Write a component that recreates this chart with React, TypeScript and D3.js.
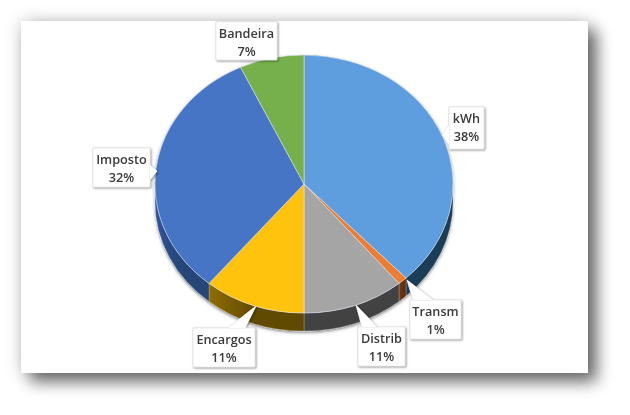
import React from "react";
import * as d3 from "d3";

const categories = ["kWh", "Transm", "Distrib", "Encargos", "Imposto", "Bandeira"];
const shares = [38, 1, 11, 11, 32, 7];
const topColors = ["#5f9ede", "#ed7d31", "#a5a5a5", "#ffc30b", "#4674c5", "#74b04c"];
const wallColors = ["#1f3c56", "#63300f", "#424242", "#614900", "#264478", "#3f6628"];
const wallLight = ["#1f3c56", "#7a3c14", "#424242", "#8f6c00", "#2f5597", "#3f6628"];

// label boxes: x, y, w, h, then pointer base x0,y0,x1,y1 and tip x,y
const boxes: number[][] = [
  [449, 107, 35, 42, 449, 125, 449, 145, 442, 135],
  [410, 300, 51, 39, 413, 300, 433, 300, 407, 280],
  [358, 327, 47, 39, 362, 327, 377, 327, 356, 305],
  [193, 328, 62, 39, 228, 328, 245, 328, 256, 306],
  [93, 148, 57, 39, 150, 165, 150, 180, 157, 171],
  [216, 22, 61, 38, 240, 60, 252, 60, 246, 60],
];

const W = 630, H = 415;
const cx = 304, cy = 184, rx = 149, ry = 129, depth = 18;
const px = (a: number) => cx + rx * Math.sin(a);
const py = (a: number) => cy - ry * Math.cos(a);

function wallPath(a0: number, a1: number): string | null {
  const s = Math.max(a0, Math.PI / 2), e = Math.min(a1, (3 * Math.PI) / 2);
  if (e <= s) return null;
  const large = e - s > Math.PI ? 1 : 0;
  return `M${px(s)},${py(s)}A${rx},${ry} 0 ${large} 1 ${px(e)},${py(e)}L${px(e)},${py(e) + depth}A${rx},${ry} 0 ${large} 0 ${px(s)},${py(s) + depth}Z`;
}

export default function App() {
  const arcs = d3.pie<number>().sort(null)(shares);
  const arcGen = d3.arc<d3.PieArcDatum<number>>().innerRadius(0).outerRadius(rx);
  const font = "'Open Sans', sans-serif";
  return (
    <svg width={W} height={H} style={{ position: "absolute", left: 0, top: 0, background: "#fff" }}>
      <defs>
        <filter id="panel" x="-15%" y="-15%" width="130%" height="130%">
          <feGaussianBlur in="SourceAlpha" stdDeviation="9" result="glow" />
          <feComponentTransfer in="glow" result="g1"><feFuncA type="linear" slope="0.2" /></feComponentTransfer>
          <feGaussianBlur in="SourceAlpha" stdDeviation="8" result="b" />
          <feOffset in="b" dx="9" dy="9" result="o" />
          <feComponentTransfer in="o" result="s"><feFuncA type="linear" slope="0.55" /></feComponentTransfer>
          <feMerge><feMergeNode in="g1" /><feMergeNode in="s" /><feMergeNode in="SourceGraphic" /></feMerge>
        </filter>
        <filter id="pie" x="-10%" y="-10%" width="120%" height="120%">
          <feDropShadow dx="0" dy="1.5" stdDeviation="1.8" floodColor="#000" floodOpacity="0.5" />
        </filter>
        <filter id="box" x="-20%" y="-20%" width="140%" height="140%">
          <feDropShadow dx="1" dy="1" stdDeviation="0.8" floodColor="#000" floodOpacity="0.42" />
        </filter>
        <filter id="soft" x="-2%" y="-2%" width="104%" height="104%">
          <feGaussianBlur stdDeviation="0.35" />
        </filter>
        {arcs.map((_, i) => (
          <linearGradient key={i} id={`w${i}`} x1="0" x2="1" y1="0" y2="0">
            <stop offset="0" stopColor={wallLight[i]} />
            <stop offset="0.5" stopColor={wallColors[i]} />
          </linearGradient>
        ))}
      </defs>
      <rect x={21} y={21} width={567} height={352} fill="#fff" filter="url(#panel)" />
      <g filter="url(#soft)">
        <g filter="url(#pie)">
          {arcs.map((a, i) => {
            const d = wallPath(a.startAngle, a.endAngle);
            return d ? <path key={i} d={d} fill={`url(#w${i})`} stroke="#fff" strokeOpacity={0.35} strokeWidth={0.6} /> : null;
          })}
          <g transform={`translate(${cx},${cy}) scale(1,${ry / rx})`}>
            {arcs.map((a, i) => (
              <path key={i} d={arcGen(a) ?? ""} fill={topColors[i]} stroke="#dfe8f5" strokeWidth={0.6} />
            ))}
          </g>
        </g>
        {categories.map((c, i) => {
          const [x, y, w, h, bx0, by0, bx1, by1, tx, ty] = boxes[i];
          const pts = `${x},${y} ${x + w},${y} ${x + w},${y + h} ${x},${y + h}`;
          const ptr = `${bx0},${by0} ${tx},${ty} ${bx1},${by1}`;
          return (
            <g key={c}>
              <g filter="url(#box)">
                <polygon points={pts} fill="#fff" stroke="#d0d0d0" strokeWidth={0.8} />
                <polygon points={ptr} fill="#fff" stroke="#d0d0d0" strokeWidth={0.8} />
              </g>
              <polygon points={`${x + 0.5},${y + 0.5} ${x + w - 0.5},${y + 0.5} ${x + w - 0.5},${y + h - 0.5} ${x + 0.5},${y + h - 0.5}`} fill="#fff" />
              <polygon points={ptr} fill="#fff" />
              <text x={x + w / 2} y={y + 15.5} textAnchor="middle" fontFamily={font} fontSize={12.7} fontWeight={600} fill="#3a3a3a">{c}</text>
              <text x={x + w / 2} y={y + 34} textAnchor="middle" fontFamily={font} fontSize={12.7} fontWeight={600} fill="#3a3a3a">{shares[i]}%</text>
            </g>
          );
        })}
      </g>
    </svg>
  );
}
